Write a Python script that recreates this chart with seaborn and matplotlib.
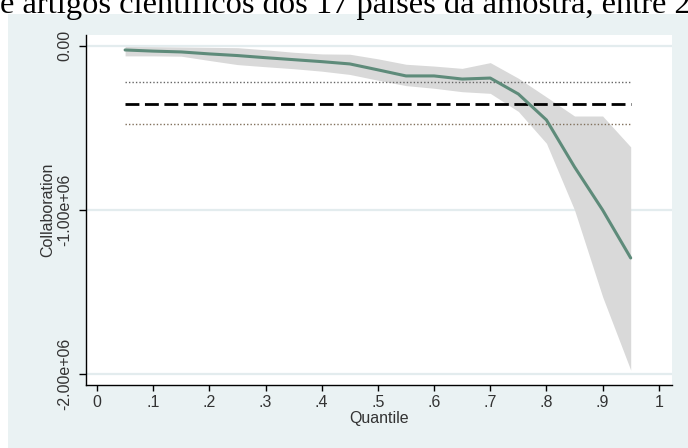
import numpy as np
import pandas as pd
import matplotlib
matplotlib.use("Agg")
import matplotlib.pyplot as plt
from matplotlib.patches import Rectangle
import seaborn as sns

# ---- data ----
quantiles = [0.05, 0.10, 0.15, 0.20, 0.25, 0.30, 0.35, 0.40, 0.45, 0.50,
             0.55, 0.60, 0.65, 0.70, 0.75, 0.80, 0.85, 0.90, 0.95]
coef = [-26e3, -33e3, -38e3, -50e3, -60e3, -73e3, -85e3, -97e3, -111e3, -147e3,
        -184e3, -184e3, -203e3, -197e3, -294e3, -452e3, -738e3, -1000e3, -1292e3]
ci_upper = [-5e3, -6e3, -8e3, -10e3, -12e3, -25e3, -40e3, -50e3, -52e3, -80e3,
            -113e3, -124e3, -138e3, -103e3, -198e3, -312e3, -428e3, -428e3, -616e3]
ci_lower = [-62e3, -62e3, -64e3, -90e3, -115e3, -128e3, -140e3, -155e3, -175e3, -210e3,
            -243e3, -259e3, -280e3, -290e3, -400e3, -594e3, -1000e3, -1528e3, -1974e3]
ols_x = [0.05, 0.95]
ols_coef = -355e3
ols_upper = -223e3
ols_lower = -478e3
x_ticks = [0, 0.1, 0.2, 0.3, 0.4, 0.5, 0.6, 0.7, 0.8, 0.9, 1.0]
x_tick_labels = ["0", ".1", ".2", ".3", ".4", ".5", ".6", ".7", ".8", ".9", "1"]
y_ticks = [0, -1e6, -2e6]
y_tick_labels = ["0.00", "-1.00e+06", "-2.00e+06"]
header_text = "e artigos científicos dos 17 países da amostra, entre 20"

df = pd.DataFrame({"Quantile": quantiles, "Collaboration": coef,
                   "upper": ci_upper, "lower": ci_lower})
ols_df = pd.DataFrame({"x": ols_x * 3,
                       "y": [ols_coef] * 2 + [ols_upper] * 2 + [ols_lower] * 2,
                       "kind": ["coef"] * 2 + ["up"] * 2 + ["low"] * 2})

sns.set_theme(style="white")
plt.rcParams["font.family"] = ["Liberation Sans", "DejaVu Sans"]

W, H = 688, 448
fig = plt.figure(figsize=(W / 100, H / 100), dpi=100)
fig.patch.set_facecolor("white")
bg = "#EAF2F3"
fig.patches.append(Rectangle((8 / W, 0), 1, 1 - 14 / H, transform=fig.transFigure,
                             facecolor=bg, edgecolor="none", zorder=-5))

ax = fig.add_axes([86 / W, 1 - 385 / H, (672 - 86) / W, (385 - 35) / H])
ax.set_zorder(5)
ax.set_facecolor("white")

for yv in y_ticks:
    ax.axhline(yv, color="#E3ECEE", lw=1.6, zorder=0)

ax.fill_between(df["Quantile"], df["lower"], df["upper"], color="#D9D9D9",
                lw=0, zorder=1)
sns.lineplot(data=df, x="Quantile", y="Collaboration", ax=ax, color="#5E8B7A",
             lw=2.2, zorder=3)

sub = ols_df[ols_df.kind == "coef"]
sns.lineplot(data=sub, x="x", y="y", ax=ax, color="black", lw=2.0,
             linestyle=(0, (5, 2)), zorder=2)
sub = ols_df[ols_df.kind == "up"]
sns.lineplot(data=sub, x="x", y="y", ax=ax, color="#666666", lw=1.0,
             linestyle=(0, (1, 1.5)), zorder=2)
sub = ols_df[ols_df.kind == "low"]
sns.lineplot(data=sub, x="x", y="y", ax=ax, color="#80705c", lw=1.0,
             linestyle=(0, (1, 1.5)), zorder=2)

ax.set_xlim(-0.0196, 1.0235)
ax.set_ylim(-2.0651e6, 0.0651e6)
ax.set_xticks(x_ticks)
ax.set_xticklabels(x_tick_labels)
ax.set_yticks(y_ticks)
ax.set_yticklabels(y_tick_labels, rotation=90, va="center")

for side in ["top", "right"]:
    ax.spines[side].set_visible(False)
for side in ["left", "bottom"]:
    ax.spines[side].set_color("black")
    ax.spines[side].set_linewidth(1.0)

ax.tick_params(axis="both", which="major", direction="out", width=1,
               color="black", labelsize=11.5, labelcolor="#333333",
               left=True, bottom=True)
ax.tick_params(axis="y", length=5, pad=5)
ax.tick_params(axis="x", length=4, pad=3)
ax.set_xlabel("Quantile", fontsize=11.5, color="#333333", labelpad=1)
ax.set_ylabel("Collaboration", fontsize=11.5, color="#333333", labelpad=1)

fig.text(0, 1 - 13 / H, header_text, fontsize=23.4, family="Liberation Serif",
         ha="left", va="baseline", color="black")

fig.savefig("out.png", dpi=100)
